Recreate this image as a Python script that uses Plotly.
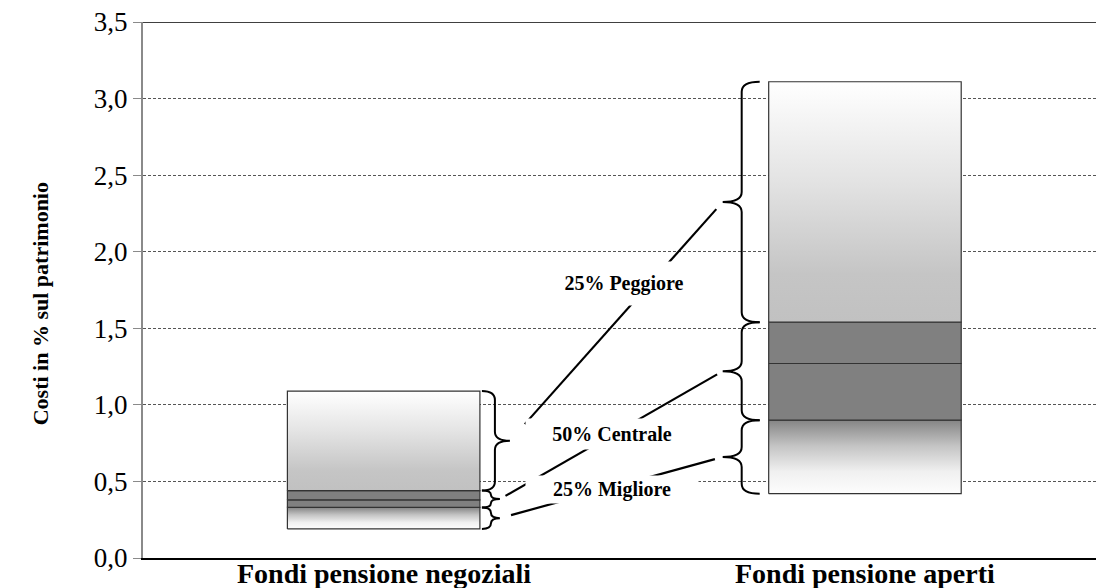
import plotly.graph_objects as go

# ---- data ----
categories = ["Fondi pensione negoziali", "Fondi pensione aperti"]
minimo = [0.19, 0.42]
q1 = [0.33, 0.90]
mediana = [0.38, 1.27]
q3 = [0.44, 1.54]
massimo = [1.09, 3.11]
group_labels = ["25% Peggiore", "50% Centrale", "25% Migliore"]
ytick_vals = [0.0, 0.5, 1.0, 1.5, 2.0, 2.5, 3.0, 3.5]
ytick_text = ["0,0", "0,5", "1,0", "1,5", "2,0", "2,5", "3,0", "3,5"]

# ---- geometry helpers ----
W, H = 1096, 588
ML, MR, MT, MB = 143, 0, 22, 30
PX_X = 481.3                     # pixels per x unit
XMAX = (W - ML - MR) / PX_X
PX_Y = (H - MT - MB) / 3.5       # pixels per y unit
xpos = [0.5, 1.5]
half = 0.2

def px2x(p):
    return p / PX_X

def px2y(p):
    return p / PX_Y

fig = go.Figure()

top_scale = [[0, "#c1c1c1"], [0.2, "#c5c5c5"], [0.6, "#e4e4e4"], [1, "#ffffff"]]
bot_scale = [[0, "#fdfdfd"], [0.3, "#f0f0f0"], [0.65, "#c4c4c4"], [1, "#858585"]]

for i, xc in enumerate(xpos):
    xl, xr = xc - half, xc + half
    segs = [
        (minimo[i], q1[i], bot_scale),
        (q1[i], mediana[i], None),
        (mediana[i], q3[i], None),
        (q3[i], massimo[i], top_scale),
    ]
    for lo, hi, cs in segs:
        kw = dict(
            x=[xl, xr, xr, xl, xl], y=[lo, lo, hi, hi, lo],
            mode="lines", fill="toself",
            line=dict(color="#333333", width=1.2),
            hoverinfo="skip", showlegend=False,
        )
        if cs is None:
            kw["fillcolor"] = "#808080"
        else:
            kw["fillgradient"] = dict(type="vertical", colorscale=cs)
        fig.add_trace(go.Scatter(**kw))


def brace_path(x_edge, x_mid, x_tip, y_top, y_bot, r):
    ym = (y_top + y_bot) / 2
    return (f"M {x_edge},{y_top} Q {x_mid},{y_top} {x_mid},{y_top - r} "
            f"L {x_mid},{ym + r} Q {x_mid},{ym} {x_tip},{ym} "
            f"Q {x_mid},{ym} {x_mid},{ym - r} L {x_mid},{y_bot + r} "
            f"Q {x_mid},{y_bot} {x_edge},{y_bot}")

# brace ranges per bar: (top group, middle group, bottom group)
def ranges(i):
    return [(massimo[i], q3[i]), (q3[i], q1[i]), (q1[i], minimo[i])]

tips = {0: [], 1: []}
# bar 1: braces on right side
xr0 = xpos[0] + half
for k, (yt, yb) in enumerate(ranges(0)):
    big = k == 0
    e, m, t = xr0 + px2x(2), xr0 + px2x(15 if big else 11), xr0 + px2x(30 if big else 20)
    r = min(px2y(9), (yt - yb) / 4)
    fig.add_shape(type="path", path=brace_path(e, m, t, yt, yb, r),
                  line=dict(color="black", width=2), xref="x", yref="y")
    tips[0].append((t, (yt + yb) / 2))
# bar 2: braces on left side
xl1 = xpos[1] - half
for k, (yt, yb) in enumerate(ranges(1)):
    e, m, t = xl1 - px2x(9), xl1 - px2x(27), xl1 - px2x(46)
    r = min(px2y(10), (yt - yb) / 4)
    fig.add_shape(type="path", path=brace_path(e, m, t, yt, yb, r),
                  line=dict(color="black", width=2), xref="x", yref="y")
    tips[1].append((t, (yt + yb) / 2))

# leader lines between brace tips
gaps = [(0.07, 0.97), (0.025, 0.975), (0.05, 0.965)]
for k in range(3):
    (x0, y0), (x1, y1) = tips[0][k], tips[1][k]
    a, b = gaps[k]
    fig.add_trace(go.Scatter(
        x=[x0 + a * (x1 - x0), x0 + b * (x1 - x0)],
        y=[y0 + a * (y1 - y0), y0 + b * (y1 - y0)],
        mode="lines", line=dict(color="black", width=2.2),
        hoverinfo="skip", showlegend=False))

# group labels (white boxes mask lines/grid)
label_pos = [(0.999, 1.79, 41), (0.974, 0.81, 28), (0.974, 0.45, 25)]
for txt, (lx, ly, bh) in zip(group_labels, label_pos):
    fig.add_annotation(x=lx, y=ly, xref="x", yref="y", text=f"<b>{txt}</b>",
                       showarrow=False, bgcolor="white", width=170, height=bh,
                       font=dict(family="Liberation Serif", size=20, color="black"))

# category labels under the bars
for xc, cat in zip(xpos, categories):
    fig.add_annotation(x=xc, y=0, xref="x", yref="y", text=f"<b>{cat}</b>",
                       showarrow=False, yanchor="middle", yshift=-15,
                       font=dict(family="Liberation Serif", size=28, color="black"))

# top border
fig.add_shape(type="line", xref="paper", yref="y", x0=0, x1=1, y0=3.5, y1=3.5,
              line=dict(color="black", width=1.5))

# y-axis title (as annotation)
fig.add_annotation(x=-(ML - 26) / (W - ML - MR), xref="paper", y=1.66, yref="y",
                   text="<b>Costi in % sul patrimonio</b>", textangle=-90,
                   showarrow=False,
                   font=dict(family="Liberation Serif", size=22, color="black"))

fig.update_layout(
    width=W, height=H,
    margin=dict(l=ML, r=MR, t=MT, b=MB),
    paper_bgcolor="white", plot_bgcolor="white",
    showlegend=False,
    xaxis=dict(range=[0, XMAX], tickvals=xpos, ticktext=["", ""],
               showgrid=False, zeroline=False, showline=True,
               linecolor="black", linewidth=1.5, ticks="",
               automargin=False, fixedrange=True),
    yaxis=dict(range=[0, 3.5], tickvals=ytick_vals, ticktext=ytick_text,
               showgrid=True, gridcolor="#555555", gridwidth=1,
               griddash="3px,2px", zeroline=False, showline=True,
               linecolor="#8a8a8a", linewidth=2, ticks="outside",
               ticklen=8, tickcolor="#8a8a8a",
               tickfont=dict(family="Liberation Serif", size=27, color="black"),
               automargin=False, fixedrange=True),
)

fig.write_html(
    "out.html",
    config={"displayModeBar": False},
    post_script="document.body.style.margin='0';document.body.style.overflow='hidden';",
)
